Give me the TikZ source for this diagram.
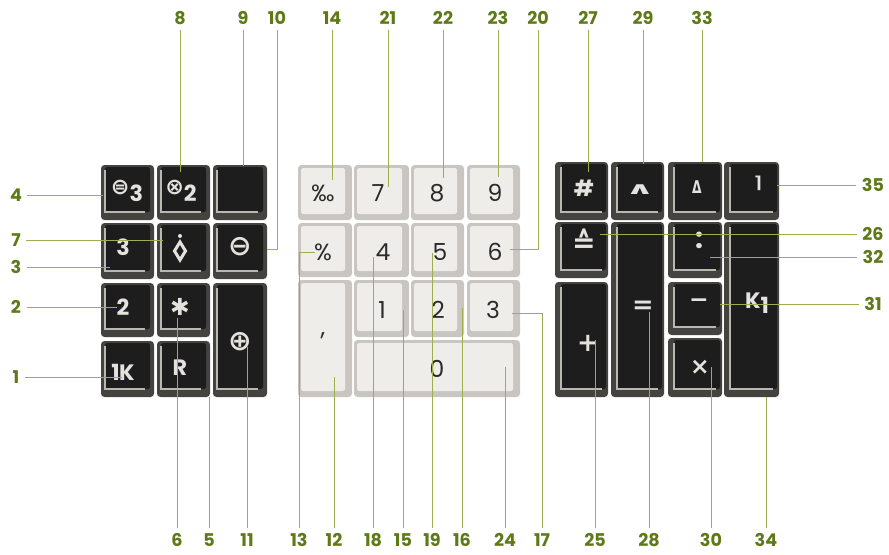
\documentclass[tikz,border=0pt]{standalone}
\usepackage{fontspec}
\setmainfont{Poppins}
\newfontfamily\symfont{DejaVu Sans}
\usepackage{xcolor}
\definecolor{olive}{HTML}{5E7A18}
\definecolor{leader}{HTML}{9DAE4E}
\definecolor{keyedge}{HTML}{45433F}
\definecolor{keyface}{HTML}{1D1D1D}
\definecolor{lip}{HTML}{B9B7B2}
\definecolor{capedge}{HTML}{C9C6C1}
\definecolor{capface}{HTML}{EFEDE9}
\definecolor{capink}{HTML}{2A2A2A}
\definecolor{capsign}{HTML}{E4E2DE}

\begin{document}
\begin{tikzpicture}[
    x=0.03cm, y=-0.03cm,
    num/.style={font=\bfseries\fontsize{15}{15}\selectfont, text=olive, inner sep=1.5pt,
        text height=11pt, text depth=0pt},
    lead/.style={draw=leader, line width=0.8pt, shorten <=3pt},
    dbody/.style={fill=keyedge, rounded corners=3pt},
    dface/.style={fill=keyface, rounded corners=2pt},
    dlip/.style={draw=lip, line width=0.9pt},
    lbody/.style={fill=capedge, rounded corners=3pt},
    lface/.style={fill=capface, rounded corners=2pt},
    dlab/.style={font=\bfseries\fontsize{19}{19}\selectfont, text=capsign, inner sep=0pt},
    llab/.style={font=\fontsize{20}{20}\selectfont, text=capink, inner sep=0pt}
]
\useasboundingbox (0,0) rectangle (889,554);

% Left block: dark keys.
\foreach \xa/\ya/\xb/\yb/\lx/\ly/\nm/\lab in {
    101/165/154/220/127/191/eq3/{{\symfont\fontsize{19}{19}\selectfont ⊜}\raisebox{-6pt}{3}},
    157/165/210/220/181/191/ot2/{{\symfont\fontsize{19}{19}\selectfont ⊗}\raisebox{-6pt}{2}},
    213/165/267/220/240/191/blank/{},
    101/223/154/279/123/247/three/3,
    157/223/210/279/180/247/diam/{},
    213/223/267/279/240/247/ominus/{\symfont\fontsize{24}{24}\selectfont ⊖},
    101/283/154/337/123/307/two/2,
    157/283/210/337/180/307/star/{\symfont\fontsize{20}{20}\selectfont ✱},
    213/283/267/397/240/342/oplus/{\symfont\fontsize{24}{24}\selectfont ⊕},
    101/341/154/397/123/372/onek/{1\kern-0.5pt K},
    157/341/210/397/180/368/rr/R} {
    \path[dbody] (\xa,\ya) rectangle (\xb,\yb);
    \path[dface] (\xa+4,\ya+2) rectangle (\xb-4,\yb-8);
    \draw[dlip] (\xa+4,\ya+5) -- (\xa+4,\yb-8) -- (\xb-9,\yb-8);
    \node[dlab] (k\nm) at (\lx,\ly) {\lab};
}
% sign of the diamond key
\draw[capsign, line width=2.6pt, line join=miter] (180,242) -- (185.5,251) -- (180,260) -- (174.5,251) -- cycle;
\fill[capsign] (180,236) circle (2);

% Middle block: light keys.
\foreach \xa/\ya/\xb/\yb/\lx/\ly/\nm/\lab in {
    298/165/352/220/323/193/permil/‰,
    354/165/409/220/378/193/seven/7,
    411/165/464/220/437/193/eight/8,
    467/165/520/220/495/193/nine/9,
    298/223/352/277/323/252/pct/\%,
    354/223/409/277/383/252/four/4,
    411/223/464/277/440/252/five/5,
    467/223/520/277/495/252/six/6,
    298/280/352/397/323/336/comma/{,},
    354/280/409/337/382/310/one/1,
    411/280/464/337/438/310/twol/2,
    467/280/520/337/493/310/threel/3,
    354/340/520/397/437/369/zero/0} {
    \path[lbody] (\xa,\ya) rectangle (\xb,\yb);
    \path[lface] (\xa+3,\ya+3) rectangle (\xb-7,\yb-6);
    \node[llab] (k\nm) at (\lx,\ly) {\lab};
}

% Right block: dark keys.
\foreach \xa/\ya/\xb/\yb/\lx/\ly/\nm/\lab in {
    555/162/608/220/584/188/hash/\#,
    611/162/664/220/640/190/hat/{\symfont\fontsize{18}{18}\selectfont\scalebox{1.7}[0.8]{∧}},
    668/162/722/220/697/187/delta/{\symfont\fontsize{15}{15}\selectfont\scalebox{0.7}[1]{Δ}},
    724/162/779/220/758/183/ceil/{\symfont\fontsize{14}{14}\selectfont ⌉},
    555/222/608/278/584/241/corr/{\symfont\fontsize{24}{24}\selectfont ≙},
    611/222/664/397/643/307/equal/{\symfont\fontsize{22}{22}\selectfont =},
    668/222/722/278/699/240/colon/{\fontsize{24}{24}\selectfont :},
    724/222/779/397/757/303/kone/{K\raisebox{-4pt}{1}},
    555/282/608/397/588/343/plus/{\symfont\fontsize{22}{22}\selectfont +},
    668/282/722/335/699/303/minus/{\symfont\fontsize{20}{20}\selectfont −},
    668/338/722/397/700/367/times/{\symfont\fontsize{20}{20}\selectfont ×}} {
    \path[dbody] (\xa,\ya) rectangle (\xb,\yb);
    \path[dface] (\xa+6,\ya+2) rectangle (\xb-2,\yb-8);
    \draw[dlip] (\xa+6,\ya+5) -- (\xa+6,\yb-8) -- (\xb-6,\yb-8);
    \node[dlab] (k\nm) at (\lx,\ly) {\lab};
}

% Leaders from the top.
\foreach \n/\x/\e in {8/180/172,9/243/166,14/332/180,21/388/187,22/443/178,
    23/498/177,27/588/172,29/643/164,33/702/162} {
    \node[num] (n\n) at (\x,18) {\n};
    \coordinate (e\n) at (\x,\e);
    \draw[lead] (n\n) -- (e\n);
}
\node[num] (n10) at (277,18) {10};
\coordinate (e10) at (267,249);
\draw[lead] (n10) |- (e10);
\node[num] (n20) at (538,18) {20};
\coordinate (e20) at (510,249);
\draw[lead] (n20) |- (e20);

% Leaders from the left.
\foreach \n/\y/\e in {4/195/103,7/240/163,3/267/110,2/307/117,1/377/122} {
    \node[num] (n\n) at (16,\y) {\n};
    \coordinate (e\n) at (\e,\y);
    \draw[lead] (n\n) -- (e\n);
}

% Leaders from the right.
\foreach \n/\y/\e in {35/185/777,26/234/600,32/257/710,31/304/720} {
    \node[num] (n\n) at (873,\y) {\n};
    \coordinate (e\n) at (\e,\y);
    \draw[lead] (n\n) -- (e\n);
}

% Leaders from the bottom.
\foreach \n/\x/\e in {6/177/318,5/209/397,11/247/347,12/334/377,18/373/257,
    15/403/310,19/432/253,16/462/308,24/505/367,25/595/340,28/649/312,
    30/711/367,34/766/397} {
    \node[num] (n\n) at (\x,540) {\n};
    \coordinate (e\n) at (\x,\e);
    \draw[lead] (n\n) -- (e\n);
}
\node[num] (n13) at (299,540) {13};
\coordinate (e13) at (315,252);
\draw[lead] (n13) |- (e13);
\node[num] (n17) at (542,540) {17};
\coordinate (e17) at (512,313);
\draw[lead] (n17) |- (e17);
\end{tikzpicture}
\end{document}
